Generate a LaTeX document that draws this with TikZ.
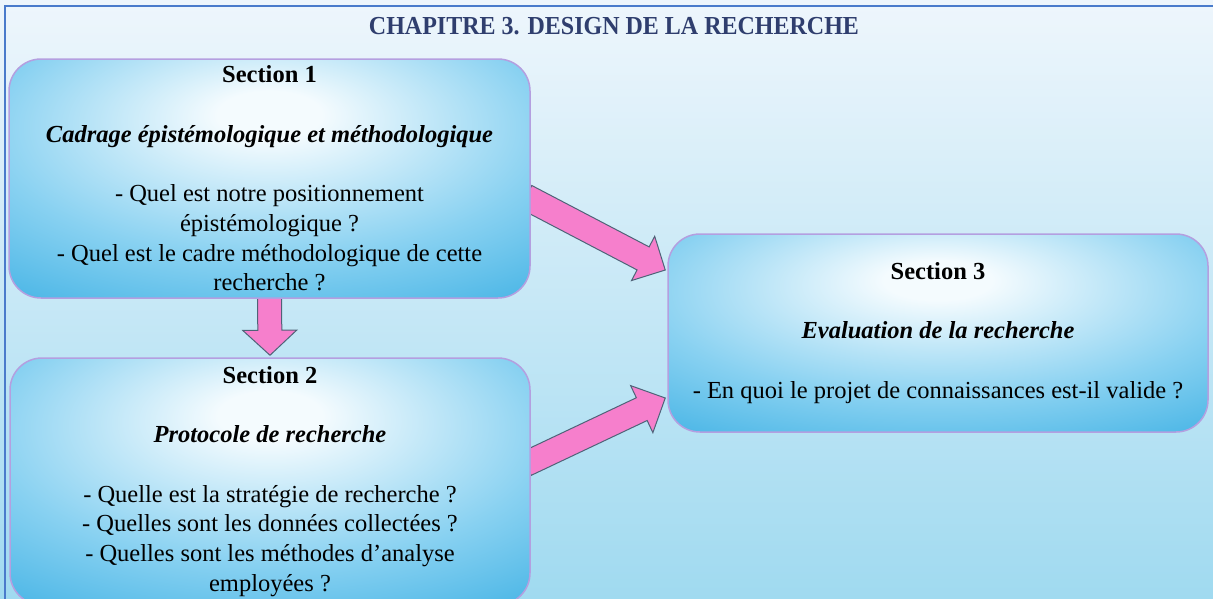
\documentclass[tikz,border=0pt]{standalone}
\usepackage{fontspec}
\setmainfont{Liberation Serif}
\usetikzlibrary{calc}
\definecolor{bgtop}{HTML}{EEF6FC}
\definecolor{bgmid}{HTML}{D3EEF9}
\definecolor{bgbot}{HTML}{A0DAF0}
\definecolor{frameblue}{HTML}{4A7BCB}
\definecolor{titlecol}{HTML}{2F3E6E}
\definecolor{boxin}{HTML}{F4FBFE}
\definecolor{boxmid}{HTML}{88D1F1}
\definecolor{boxout}{HTML}{34ACE2}
\definecolor{boxdeep}{HTML}{2BA5DD}
\definecolor{boxline}{HTML}{B49FE0}
\definecolor{arrowfill}{HTML}{F67FCC}
\definecolor{arrowline}{HTML}{4F6378}
\pgfdeclareradialshading{boxshade}{\pgfpoint{0bp}{14bp}}{color(0bp)=(boxin); color(5bp)=(boxin); color(27bp)=(boxmid); color(47bp)=(boxout); color(100bp)=(boxdeep)}
\pgfdeclarelayer{bg}
\pgfsetlayers{bg,main}
\newcommand{\fatarrow}[5]{%
  \coordinate (h) at ($(#2)!#5!(#1)$);
  \draw[bigarrow] ($(#1)!#3!90:(#2)$) -- ($(h)!#3!90:(#2)$) -- ($(h)!#4!90:(#2)$) -- (#2)
    -- ($(h)!#4!-90:(#2)$) -- ($(h)!#3!-90:(#2)$) -- ($(#1)!#3!-90:(#2)$) -- cycle;}
\begin{document}
\begin{tikzpicture}[x=1pt,y=-1pt,
  secbox/.style={rectangle, rounded corners=32pt, draw=boxline, line width=1.5pt,
    shade, shading=boxshade, align=center,
    font=\fontsize{24.5}{29.7}\selectfont, text=black, inner sep=0pt},
  bigarrow/.style={fill=arrowfill, draw=arrowline, line width=1pt, line join=miter},
  titletext/.style={font=\bfseries\fontsize{24}{29}\selectfont, text=titlecol, inner sep=0pt}]
\useasboundingbox (0,0) rectangle (1213,598);
\begin{pgfonlayer}{bg}
  \shade[top color=bgtop, middle color=bgmid, bottom color=bgbot] (0,0) rectangle (1213,598);
  \draw[frameblue, line width=2pt] (5,600) -- (5,6) -- (1214,6);
\end{pgfonlayer}

\node[titletext, anchor=base] (title) at (614,34) {\scalebox{1}[1.08]{CHAPITRE 3. DESIGN DE LA RECHERCHE}};

\node[secbox, minimum width=521pt, minimum height=239pt] (b1) at (269.5,178.5)
  {\textbf{Section 1}\\[29.7pt]
   \textbf{\textit{Cadrage épistémologique et méthodologique}}\\[29.7pt]
   - Quel est notre positionnement\\
   épistémologique ?\\
   - Quel est le cadre méthodologique de cette\\
   recherche ?};

\node[secbox, minimum width=520pt, minimum height=247pt] (b2) at (270,481.5)
  {\textbf{Section 2}\\[29.7pt]
   \textbf{\textit{Protocole de recherche}}\\[29.7pt]
   - Quelle est la stratégie de recherche ?\\
   - Quelles sont les données collectées ?\\
   - Quelles sont les méthodes d’analyse\\
   employées ?};

\node[secbox, minimum width=540pt, minimum height=198pt] (b3) at (938,333)
  {\textbf{Section 3}\\[29.7pt]
   \textbf{\textit{Evaluation de la recherche}}\\[29.7pt]
   - En quoi le projet de connaissances est-il valide ?};

\begin{pgfonlayer}{bg}
  \coordinate (a1s) at ($(b1.east)+(-5,18.5)$);
  \coordinate (a1t) at ($(b3.west)+(-2,-63)$);
  \fatarrow{a1s}{a1t}{13pt}{25pt}{25pt}
  \coordinate (a2s) at ($(b2.east)+(-5,-17.5)$);
  \coordinate (a2t) at ($(b3.west)+(-2,65)$);
  \fatarrow{a2s}{a2t}{12.6pt}{26pt}{26pt}
  \coordinate (a3s) at ($(b1.south)+(0,-5)$);
  \coordinate (a3t) at ($(b2.north)+(0,-2)$);
  \fatarrow{a3s}{a3t}{12pt}{27pt}{25pt}
\end{pgfonlayer}
\end{tikzpicture}
\end{document}
